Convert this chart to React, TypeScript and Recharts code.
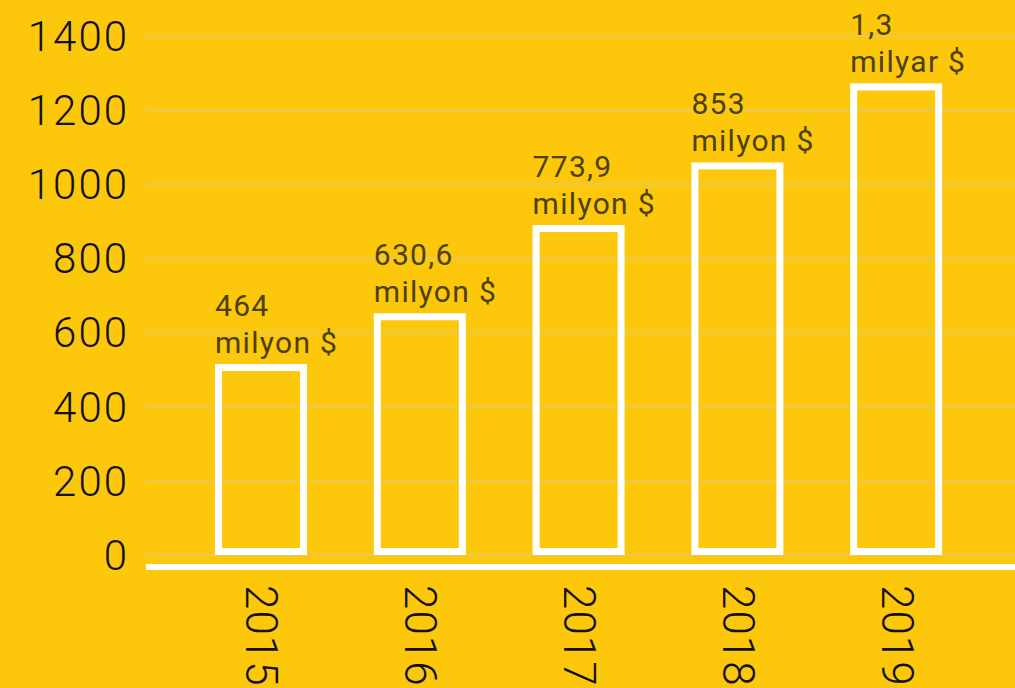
import { Bar, BarChart, CartesianGrid, LabelList, XAxis, YAxis } from 'recharts';

const years = ['2015', '2016', '2017', '2018', '2019'];
// bar heights (the printed labels differ slightly)
const revenue = [515, 652, 890, 1059, 1272];
const amountLabels = ['464', '630,6', '773,9', '853', '1,3'];
const unitLabels = ['milyon $', 'milyon $', 'milyon $', 'milyon $', 'milyar $'];
const yTicks = [0, 200, 400, 600, 800, 1000, 1200, 1400];

const BG = '#FDC70C';
const FONT = 'Roboto, sans-serif';

const chartData = years.map((year, i) => ({
  year,
  value: revenue[i],
  amount: amountLabels[i],
  unit: unitLabels[i],
}));

// outline drawn inside the bar box
function OutlineBar(props: any) {
  const { x, y, width, height } = props;
  const sw = 7;
  if (height <= 0) return null;
  return (
    <rect
      x={x + sw / 2}
      y={y + sw / 2}
      width={width - sw}
      height={height - sw}
      fill="none"
      stroke="#ffffff"
      strokeWidth={sw}
    />
  );
}

function YearTick({ x, y, payload }: any) {
  return (
    <text
      x={x}
      y={y}
      transform={`rotate(90, ${x}, ${y})`}
      textAnchor="start"
      dominantBaseline="central"
      fill="#111"
      fontSize={44}
      fontFamily={FONT}
      fontWeight={300}
      letterSpacing={1}
    >
      {payload.value}
    </text>
  );
}

function ValueLabel(props: any) {
  const { x, y, index } = props;
  return (
    <text x={x} fill="#4B4104" fontSize={30} fontFamily={FONT} fontWeight={400} letterSpacing={1.3}>
      <tspan x={x} y={y - 48}>{amountLabels[index]}</tspan>
      <tspan x={x} y={y - 11}>{unitLabels[index]}</tspan>
    </text>
  );
}

export default function App() {
  return (
    <div style={{ position: 'absolute', left: 0, top: 0, width: 1015, height: 688, background: BG, overflow: 'hidden' }}>
      <BarChart
        width={1015}
        height={688}
        data={chartData}
        margin={{ top: 36, right: 0, left: 0, bottom: 0 }}
        barSize={92}
      >
        <CartesianGrid horizontal vertical={false} stroke="#E6C95A" strokeWidth={2} />
        <XAxis
          dataKey="year"
          height={121}
          padding={{ left: 36, right: 39 }}
          axisLine={{ stroke: '#ffffff', strokeWidth: 6 }}
          tickLine={false}
          tickSize={0}
          tickMargin={18}
          interval={0}
          tick={<YearTick />}
        />
        <YAxis
          width={146}
          domain={[0, 1400]}
          ticks={yTicks}
          padding={{ top: 0, bottom: 12 }}
          axisLine={false}
          tickLine={false}
          tickSize={0}
          tickMargin={17}
          tick={{ fill: '#111', fontSize: 42, fontFamily: FONT, fontWeight: 300, letterSpacing: 2 }}
        />
        <Bar dataKey="value" shape={<OutlineBar />} isAnimationActive={false}>
          <LabelList dataKey="amount" content={<ValueLabel />} />
        </Bar>
      </BarChart>
    </div>
  );
}
